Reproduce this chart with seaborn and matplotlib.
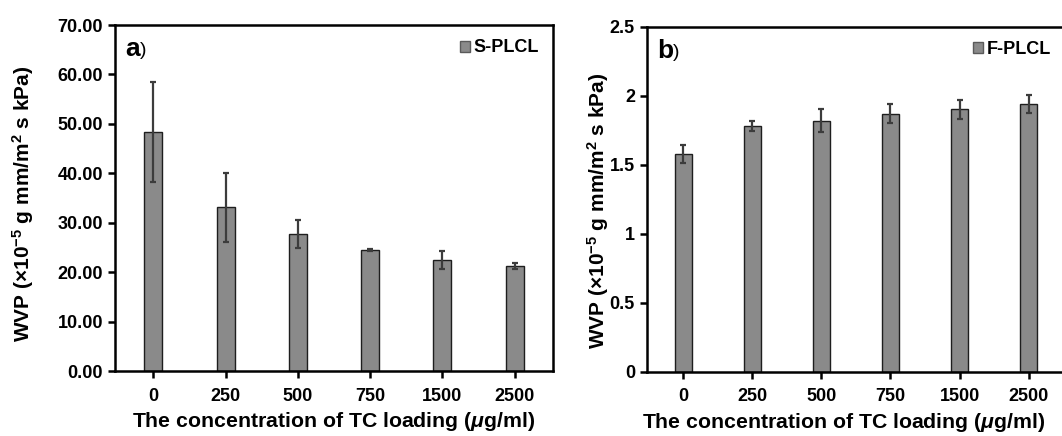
import seaborn as sns
import matplotlib.pyplot as plt
import pandas as pd
from matplotlib.patches import Patch

# concentrations of TC loading (ug/ml)
concentrations = ["0", "250", "500", "750", "1500", "2500"]

# panel a : S-PLCL
s_plcl_wvp = [48.4, 33.1, 27.7, 24.5, 22.5, 21.3]
s_plcl_err = [10.1, 6.9, 2.8, 0.2, 1.8, 0.6]

# panel b : F-PLCL
f_plcl_wvp = [1.58, 1.78, 1.82, 1.87, 1.90, 1.94]
f_plcl_err = [0.065, 0.035, 0.08, 0.07, 0.07, 0.065]

sns.set_style("ticks")
plt.rcParams['font.family'] = ['Liberation Sans', 'DejaVu Sans']
plt.rcParams['font.weight'] = 'bold'
plt.rcParams['text.color'] = 'black'
plt.rcParams['axes.labelcolor'] = 'black'
plt.rcParams['mathtext.fontset'] = 'custom'
plt.rcParams['mathtext.rm'] = 'Liberation Sans:bold'
plt.rcParams['mathtext.bf'] = 'Liberation Sans:bold'
plt.rcParams['mathtext.it'] = 'Liberation Sans:bold:italic'
plt.rcParams['mathtext.default'] = 'bf'

fig = plt.figure(figsize=(10.62, 4.36), dpi=100)
ax_a = fig.add_axes([0.1083, 0.149, 0.4124, 0.7936])
ax_b = fig.add_axes([0.609, 0.1475, 0.394, 0.7913])

ylabel = "WVP (×10$^{-5}$ g mm/m$^{2}$ s kPa)"
xlabel = "The concentration of TC loading ($\\mathit{\\mu}$g/ml)"


def draw_panel(ax, values, errors, letter, name, ymax, ystep, fmt):
    df = pd.DataFrame({"conc": concentrations, "wvp": values})
    sns.barplot(data=df, x="conc", y="wvp", ax=ax, width=0.25,
                color="#8a8a8a", saturation=1, edgecolor="#1e1e1e",
                linewidth=1.0, errorbar=None)
    ax.errorbar(range(len(concentrations)), values, yerr=errors, fmt="none",
                ecolor="#3c3c3c", elinewidth=1.6, capsize=2.5, capthick=1.6)
    ax.set_xlim(-0.53, len(concentrations) - 0.47)
    ax.set_ylim(0, ymax)
    ticks = [i * ystep for i in range(int(round(ymax / ystep)) + 1)]
    ax.set_yticks(ticks)
    ax.set_yticklabels([fmt.format(t) for t in ticks])
    for sp in ax.spines.values():
        sp.set_linewidth(1.8)
        sp.set_color("black")
    ax.tick_params(axis="both", direction="out", length=5, width=1.8,
                   labelsize=13, colors="black")
    ax.tick_params(axis="x", pad=7)
    ax.set_xlabel(xlabel, fontsize=15.3, fontweight="bold")
    ax.set_ylabel(ylabel, fontsize=15, fontweight="bold")
    t = ax.text(0.024, 0.965, letter, transform=ax.transAxes, fontsize=19,
                fontweight="bold", va="top", ha="left")
    ax.annotate(")", xy=(1.0, 0.08), xycoords=t, fontsize=14,
                fontweight="normal", va="bottom", ha="left")
    handle = Patch(facecolor="#8a8a8a", edgecolor="#5a5a5a", label=name)
    ax.legend(handles=[handle], loc="upper right", frameon=False,
              prop={"weight": "bold", "size": 13}, handlelength=0.55,
              handleheight=0.55, handletextpad=0.2, borderaxespad=0.4)


draw_panel(ax_a, s_plcl_wvp, s_plcl_err, "a", "S-PLCL", 70, 10, "{:.2f}")
draw_panel(ax_b, f_plcl_wvp, f_plcl_err, "b", "F-PLCL", 2.5, 0.5, "{:g}")
ax_a.yaxis.set_label_coords(-0.181, 0.483)
ax_b.yaxis.set_label_coords(-0.085, 0.465)
ax_a.xaxis.set_label_coords(0.5, -0.113)
ax_b.xaxis.set_label_coords(0.47, -0.113)

plt.savefig("out.png", dpi=100)
